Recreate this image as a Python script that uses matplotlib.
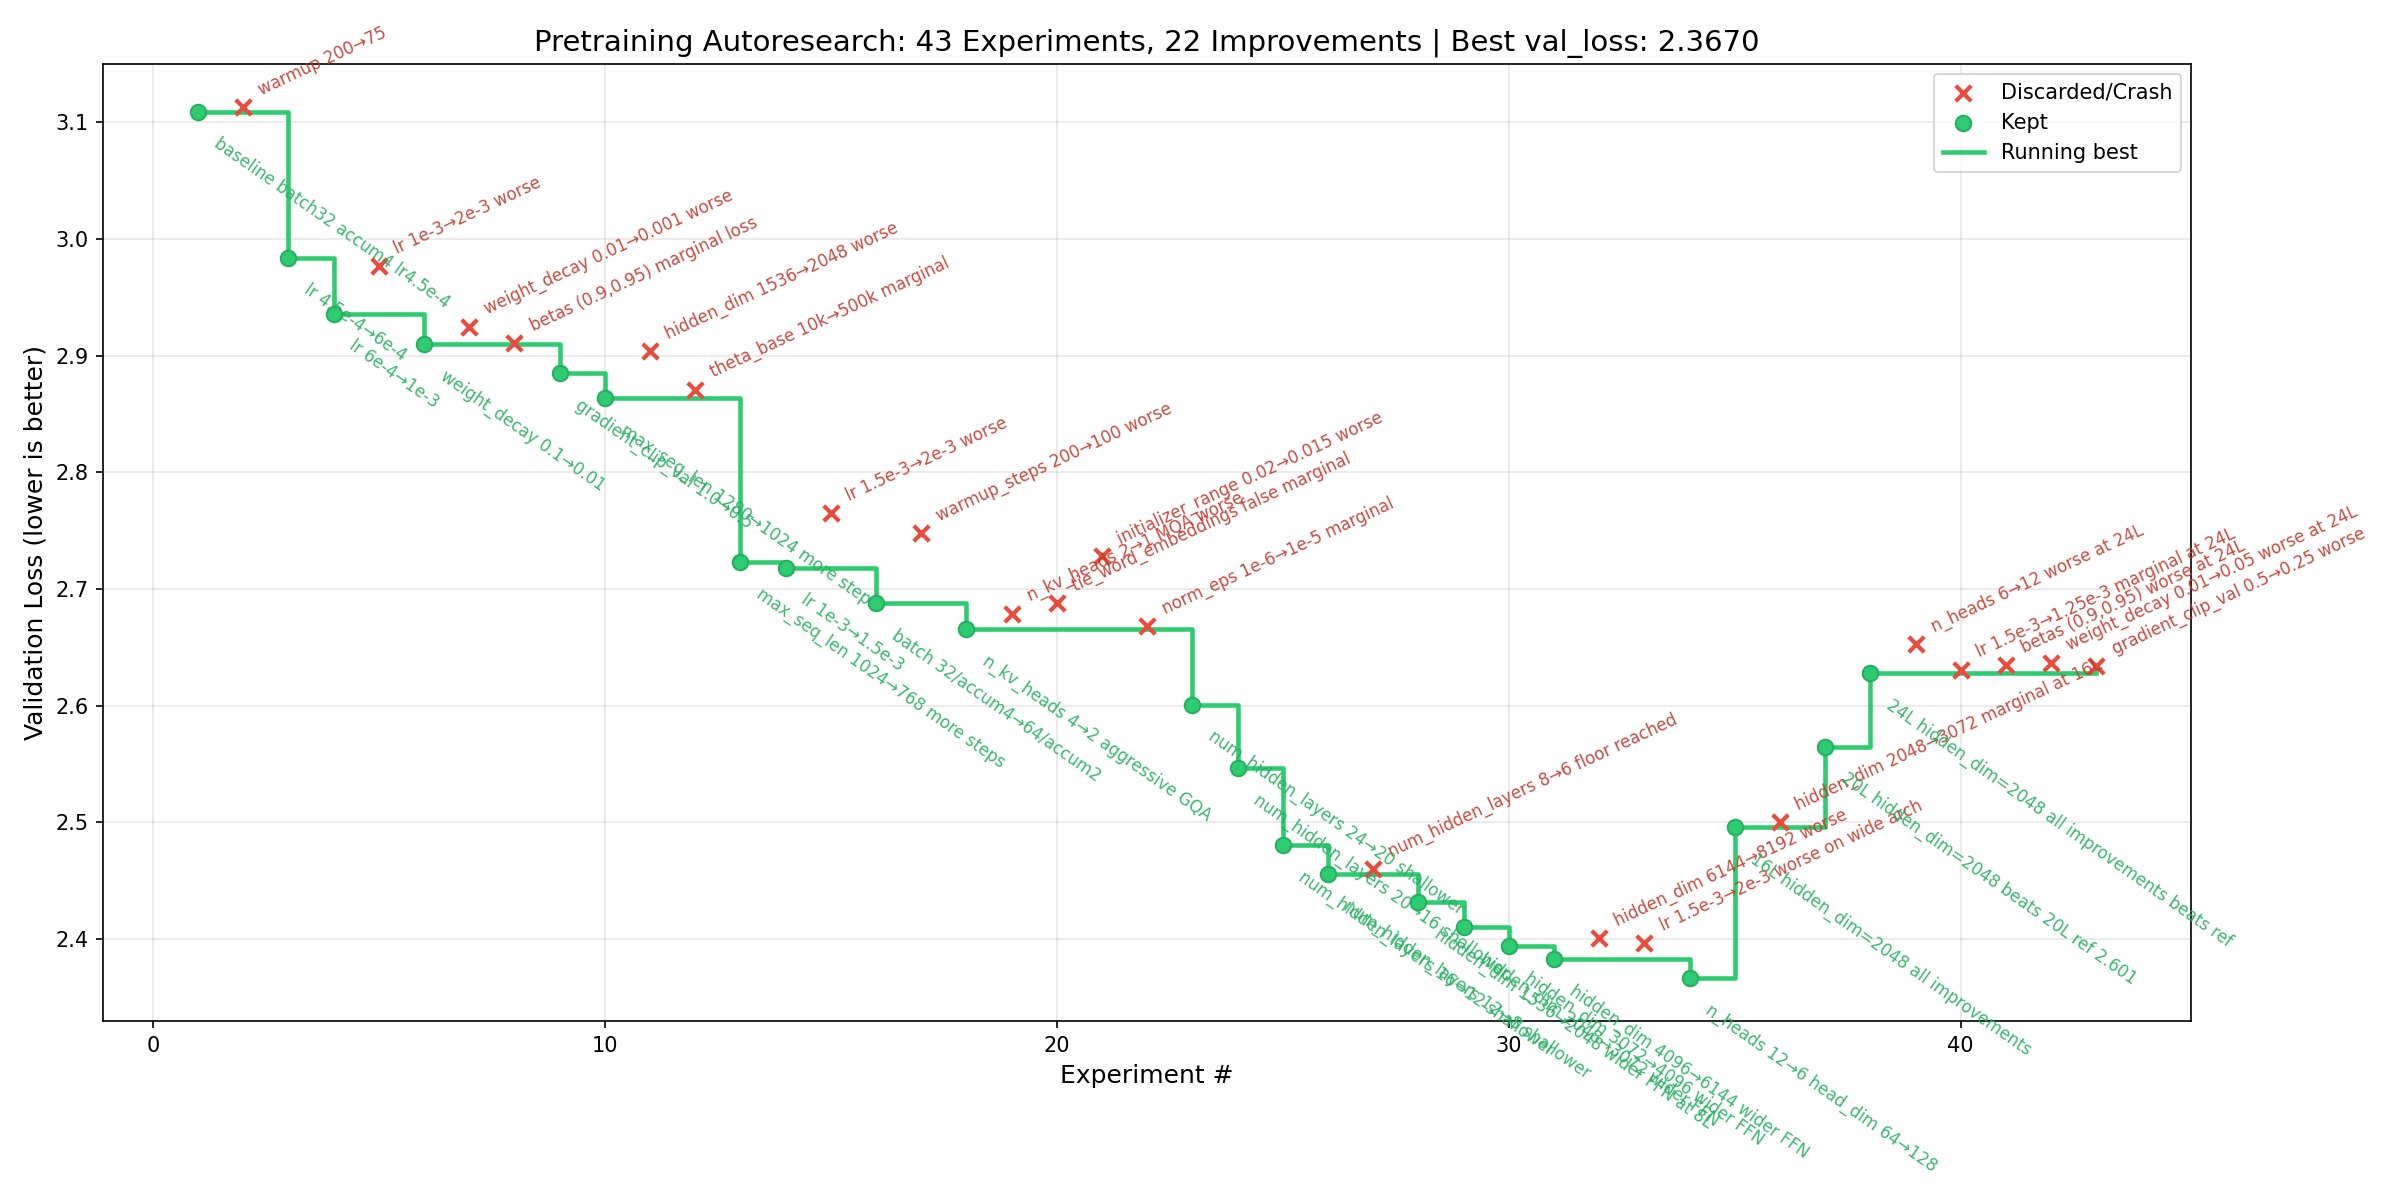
import matplotlib
matplotlib.use('Agg')
import matplotlib.pyplot as plt

# experiments that improved and were kept
kept_x = [1, 3, 4, 6, 9, 10, 13, 14, 16, 18, 23, 24, 25, 26, 28, 29, 30, 31, 34, 35, 37, 38]
kept_loss = [3.109, 2.984, 2.936, 2.910, 2.885, 2.864, 2.723, 2.718, 2.688, 2.666,
             2.601, 2.547, 2.481, 2.456, 2.432, 2.410, 2.394, 2.383, 2.367, 2.496,
             2.565, 2.628]
kept_desc = [
    "baseline batch32 accum4 lr4.5e-4",
    "lr 4.5e-4\u21926e-4",
    "lr 6e-4\u21921e-3",
    "weight_decay 0.1\u21920.01",
    "gradient_clip_val 1.0\u21920.5",
    "max_seq_len 1280\u21921024 more steps",
    "max_seq_len 1024\u2192768 more steps",
    "lr 1e-3\u21921.5e-3",
    "batch 32/accum4\u219264/accum2",
    "n_kv_heads 4\u21922 aggressive GQA",
    "num_hidden_layers 24\u219220 shallower",
    "num_hidden_layers 20\u219216 shallower",
    "num_hidden_layers 16\u219212 shallower",
    "num_hidden_layers 12\u21928 shallower",
    "hidden_dim 1536\u21922048 wider FFN at 8L",
    "hidden_dim 2048\u21923072 wider FFN",
    "hidden_dim 3072\u21924096 wider FFN",
    "hidden_dim 4096\u21926144 wider FFN",
    "n_heads 12\u21926 head_dim 64\u2192128",
    "16L hidden_dim=2048 all improvements",
    "20L hidden_dim=2048 beats 20L ref 2.601",
    "24L hidden_dim=2048 all improvements beats ref",
]

# experiments that were discarded or crashed
disc_x = [2, 5, 7, 8, 11, 12, 15, 17, 19, 20, 21, 22, 27, 32, 33, 36, 39, 40, 41, 42, 43]
disc_loss = [3.113, 2.977, 2.925, 2.911, 2.904, 2.871, 2.765, 2.748, 2.679, 2.688,
             2.728, 2.668, 2.460, 2.401, 2.397, 2.500, 2.653, 2.631, 2.635, 2.637, 2.634]
disc_desc = [
    "warmup 200\u219275",
    "lr 1e-3\u21922e-3 worse",
    "weight_decay 0.01\u21920.001 worse",
    "betas (0.9,0.95) marginal loss",
    "hidden_dim 1536\u21922048 worse",
    "theta_base 10k\u2192500k marginal",
    "lr 1.5e-3\u21922e-3 worse",
    "warmup_steps 200\u2192100 worse",
    "n_kv_heads 2\u21921 MQA worse",
    "tie_word_embeddings false marginal",
    "initializer_range 0.02\u21920.015 worse",
    "norm_eps 1e-6\u21921e-5 marginal",
    "num_hidden_layers 8\u21926 floor reached",
    "hidden_dim 6144\u21928192 worse",
    "lr 1.5e-3\u21922e-3 worse on wide arch",
    "hidden_dim 2048\u21923072 marginal at 16L",
    "n_heads 6\u219212 worse at 24L",
    "lr 1.5e-3\u21921.25e-3 marginal at 24L",
    "betas (0.9,0.95) worse at 24L",
    "weight_decay 0.01\u21920.05 worse at 24L",
    "gradient_clip_val 0.5\u21920.25 worse",
]

n_total = 43
GREEN = '#2ecc71'
RED = '#e74c3c'

fig, ax = plt.subplots(figsize=(16, 8), dpi=150)

ax.scatter(disc_x, disc_loss, marker='x', s=55, color=RED, linewidths=2,
           label='Discarded/Crash', zorder=3)
ax.scatter(kept_x, kept_loss, marker='o', s=55, color=GREEN, edgecolors='#27ae60',
           linewidths=1, label='Kept', zorder=4)

# running best drawn as a step through kept experiments, held to the last run
step_x = kept_x + [n_total]
step_y = kept_loss + [kept_loss[-1]]
ax.step(step_x, step_y, where='post', color=GREEN, linewidth=2.2, label='Running best', zorder=2)

for x, y, txt in zip(disc_x, disc_loss, disc_desc):
    ax.annotate(txt, (x, y), xytext=(6, 4), textcoords='offset points',
                fontsize=8, color='#c0392b', rotation=25, ha='left', va='bottom',
                alpha=0.9)

for x, y, txt in zip(kept_x, kept_loss, kept_desc):
    ax.annotate(txt, (x, y), xytext=(6, -11), textcoords='offset points',
                fontsize=8, color='#27ae60', rotation=-35, ha='left', va='top',
                alpha=0.9)

ax.set_xlabel('Experiment #', fontsize=12)
ax.set_ylabel('Validation Loss (lower is better)', fontsize=12)
ax.set_title(f'Pretraining Autoresearch: {n_total} Experiments, {len(kept_x)} Improvements '
             f'| Best val_loss: {min(kept_loss):.4f}', fontsize=14)
ax.grid(True, alpha=0.3)
ax.legend(loc='upper right', fontsize=10)

fig.subplots_adjust(left=0.043, right=0.913, top=0.947, bottom=0.149)
fig.savefig('out.png', dpi=150)
